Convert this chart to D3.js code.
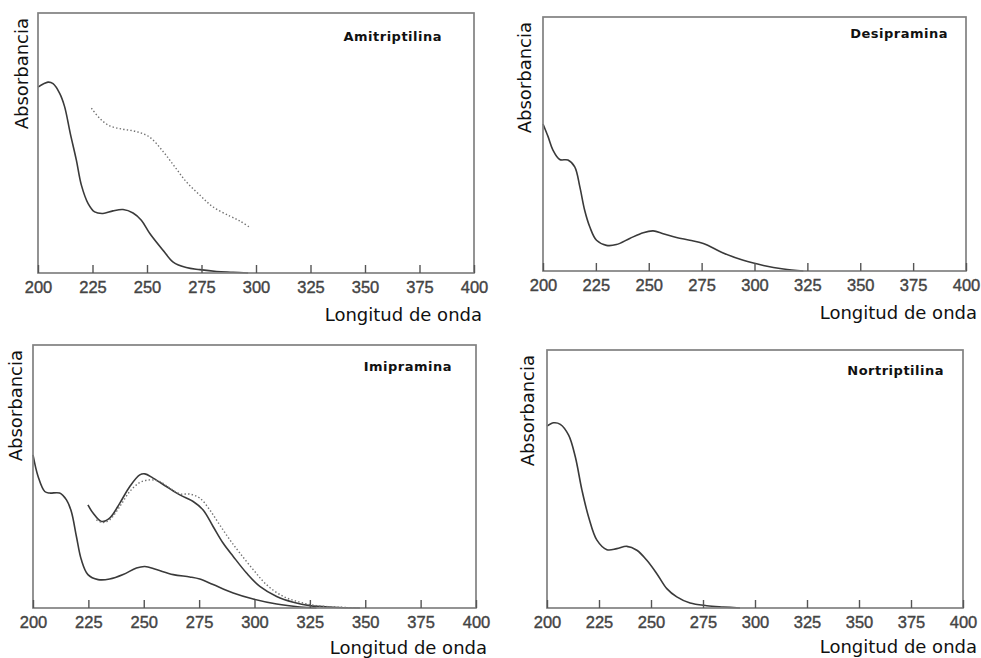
<!DOCTYPE html>
<html>
<head>
<meta charset="utf-8">
<script src="https://cdn.jsdelivr.net/npm/d3@7"></script>
<style>
  html, body { margin: 0; padding: 0; background: #fff; }
  svg { display: block; }
</style>
</head>
<body>
<svg id="chart" width="981" height="658"></svg>
<script>
// UV absorption spectra of four tricyclic antidepressants (relative absorbance, no y scale)
const xTicks = [200, 225, 250, 275, 300, 325, 350, 375, 400];
const xLabel = "Longitud de onda";
const yLabel = "Absorbancia";
const drugNames = ["Amitriptilina", "Desipramina", "Imipramina", "Nortriptilina"];

// Amitriptilina: solid spectrum [wavelength nm, relative absorbance]
const amitriptilinaSolid = [
  [200, 0.715], [204.6, 0.734], [206.9, 0.728], [210, 0.69], [212.2, 0.64],
  [214.8, 0.537], [217.6, 0.434], [219.9, 0.338], [223, 0.267], [226, 0.235],
  [229.8, 0.229], [234.4, 0.239], [239, 0.244], [243.6, 0.231], [247.4, 0.203],
  [251.3, 0.152], [257.4, 0.087], [262, 0.042], [268, 0.021], [274.2, 0.013],
  [281.9, 0.006], [289.5, 0.003], [296.4, 0]
];
// Amitriptilina: dotted spectrum
const amitriptilinaDotted = [
  [224.5, 0.634], [228.3, 0.595], [232.9, 0.566], [239, 0.553], [245.1, 0.544],
  [251.3, 0.522], [257.4, 0.467], [262.7, 0.409], [268, 0.351], [274.2, 0.3],
  [280.3, 0.254], [288, 0.219], [292.6, 0.2], [297.2, 0.175]
];

// Desipramina: solid spectrum
const desipraminaSolid = [
  [200, 0.579], [202.4, 0.529], [204.7, 0.476], [207.9, 0.439], [211.8, 0.437],
  [215, 0.41], [217.4, 0.332], [219.7, 0.239], [222.1, 0.174], [225.3, 0.121],
  [230, 0.101], [234.7, 0.104], [241, 0.128], [247.4, 0.151], [252.1, 0.158],
  [256.8, 0.147], [263.1, 0.132], [269.4, 0.121], [275.8, 0.108], [285.2, 0.071],
  [294.7, 0.042], [304.2, 0.022], [313.7, 0.008], [323.1, 0]
];

// Imipramina: lower solid spectrum
const imipraminaLower = [
  [200, 0.582], [202.3, 0.5], [205.3, 0.443], [207.5, 0.437], [212, 0.437],
  [215.1, 0.411], [217.3, 0.367], [219.6, 0.272], [221.8, 0.184], [224.8, 0.127],
  [229.4, 0.108], [234.6, 0.11], [240.7, 0.127], [246.7, 0.152], [250.5, 0.158],
  [255.7, 0.146], [263.3, 0.127], [270.8, 0.118], [275.3, 0.11], [281.3, 0.089],
  [290.4, 0.057], [299.4, 0.034], [310, 0.015], [320.5, 0.004], [328, 0]
];
// Imipramina: upper solid spectrum
const imipraminaUpper = [
  [224.8, 0.392], [227.1, 0.361], [230.9, 0.329], [234.6, 0.342], [239.2, 0.399],
  [243.7, 0.462], [248.2, 0.506], [250.5, 0.51], [254.2, 0.494], [260.2, 0.462],
  [266.3, 0.43], [272.3, 0.405], [276.8, 0.373], [281.3, 0.31], [285.8, 0.247],
  [290.4, 0.196], [296.4, 0.133], [302.4, 0.082], [310, 0.044], [317.5, 0.022],
  [325, 0.009], [335.5, 0.003], [347.6, 0]
];
// Imipramina: dotted spectrum
const imipraminaDotted = [
  [228.6, 0.335], [231.6, 0.325], [234.6, 0.335], [239.2, 0.386], [243.7, 0.443],
  [248.2, 0.477], [252.7, 0.487], [257.2, 0.481], [261.7, 0.456], [266.3, 0.434],
  [270.8, 0.433], [275.3, 0.418], [279.8, 0.373], [284.3, 0.316], [288.9, 0.259],
  [293.4, 0.209], [299.4, 0.146], [305.4, 0.089], [313, 0.044], [320.5, 0.022],
  [328, 0.009], [338.6, 0.003], [347.6, 0]
];

// Nortriptilina: solid spectrum
const nortriptilinaSolid = [
  [200, 0.705], [203.2, 0.718], [206.4, 0.712], [210.4, 0.67], [213.6, 0.586],
  [216.8, 0.457], [220, 0.353], [224, 0.263], [228.8, 0.226], [233.6, 0.23],
  [238.4, 0.239], [243.2, 0.224], [248, 0.185], [252.8, 0.133], [257.6, 0.075],
  [262.4, 0.043], [268.8, 0.019], [276.8, 0.009], [284.8, 0.004], [292.8, 0]
];

const spectra = [
  [{ pts: amitriptilinaSolid, dotted: false }, { pts: amitriptilinaDotted, dotted: true }],
  [{ pts: desipraminaSolid, dotted: false }],
  [{ pts: imipraminaLower, dotted: false }, { pts: imipraminaUpper, dotted: false }, { pts: imipraminaDotted, dotted: true }],
  [{ pts: nortriptilinaSolid, dotted: false }]
];

// Panel frames and label placement
const panels = [
  { x0: 38,  x1: 474, y0: 13,  y1: 273, yLabX: 28,  xLabX: 482, xLabY: 321, titleX: 442, titleY: 41 },
  { x0: 543, x1: 966, y0: 17,  y1: 271, yLabX: 531, xLabX: 977, xLabY: 319, titleX: 948, titleY: 38 },
  { x0: 33,  x1: 476, y0: 345, y1: 608, yLabX: 22,  xLabX: 487, xLabY: 654, titleX: 452, titleY: 371 },
  { x0: 547, x1: 963, y0: 350, y1: 608, yLabX: 534, xLabX: 977, xLabY: 653, titleX: 944, titleY: 375 }
];

const svg = d3.select("#chart");

panels.forEach((p, i) => {
  const x = d3.scaleLinear().domain([200, 400]).range([p.x0, p.x1]);
  const y = d3.scaleLinear().domain([0, 1]).range([p.y1, p.y0]);
  const g = svg.append("g");

  // spectra
  const line = d3.line().x(d => x(d[0])).y(d => y(d[1])).curve(d3.curveCatmullRom.alpha(0.5));
  spectra[i].forEach(s => {
    g.append("path")
      .datum(s.pts)
      .attr("d", line)
      .attr("fill", "none")
      .attr("stroke", s.dotted ? "#707070" : "#3a3a3a")
      .attr("stroke-width", s.dotted ? 1.4 : 1.6)
      .attr("stroke-dasharray", s.dotted ? "1.4,2.2" : null)
      .attr("stroke-linejoin", "round");
  });

  // frame
  g.append("rect")
    .attr("x", p.x0).attr("y", p.y0)
    .attr("width", p.x1 - p.x0).attr("height", p.y1 - p.y0)
    .attr("fill", "none").attr("stroke", "#808080").attr("stroke-width", 1.7);

  // x axis with inward ticks
  const ax = g.append("g")
    .attr("transform", `translate(0,${p.y1})`)
    .call(d3.axisBottom(x).tickValues(xTicks).tickSizeInner(-8).tickSizeOuter(0).tickPadding(8).tickFormat(d3.format("d")));
  ax.select(".domain").remove();
  ax.selectAll(".tick line").attr("stroke", "#555").attr("stroke-width", 1.4);
  ax.selectAll(".tick text")
    .attr("fill", "#444")
    .attr("font-family", "'Liberation Sans', Arial, sans-serif")
    .attr("font-size", 16.5)
    .attr("stroke", "#444").attr("stroke-width", 0.4);

  // axis titles
  g.append("text")
    .attr("x", p.xLabX).attr("y", p.xLabY)
    .attr("text-anchor", "end")
    .attr("font-family", "'DejaVu Sans', Verdana, sans-serif")
    .attr("font-size", 18)
    .attr("fill", "#111")
    .text(xLabel);

  g.append("text")
    .attr("transform", `translate(${p.yLabX},${p.y0 + 5}) rotate(-90)`)
    .attr("text-anchor", "end")
    .attr("font-family", "'DejaVu Sans', Verdana, sans-serif")
    .attr("font-size", 18)
    .attr("fill", "#111")
    .text(yLabel);

  // drug name
  g.append("text")
    .attr("x", p.titleX).attr("y", p.titleY)
    .attr("text-anchor", "end")
    .attr("font-family", "'DejaVu Sans', Verdana, sans-serif")
    .attr("font-weight", "bold")
    .attr("font-size", 13)
    .attr("letter-spacing", 0.5)
    .attr("fill", "#111")
    .text(drugNames[i]);
});
</script>
</body>
</html>
